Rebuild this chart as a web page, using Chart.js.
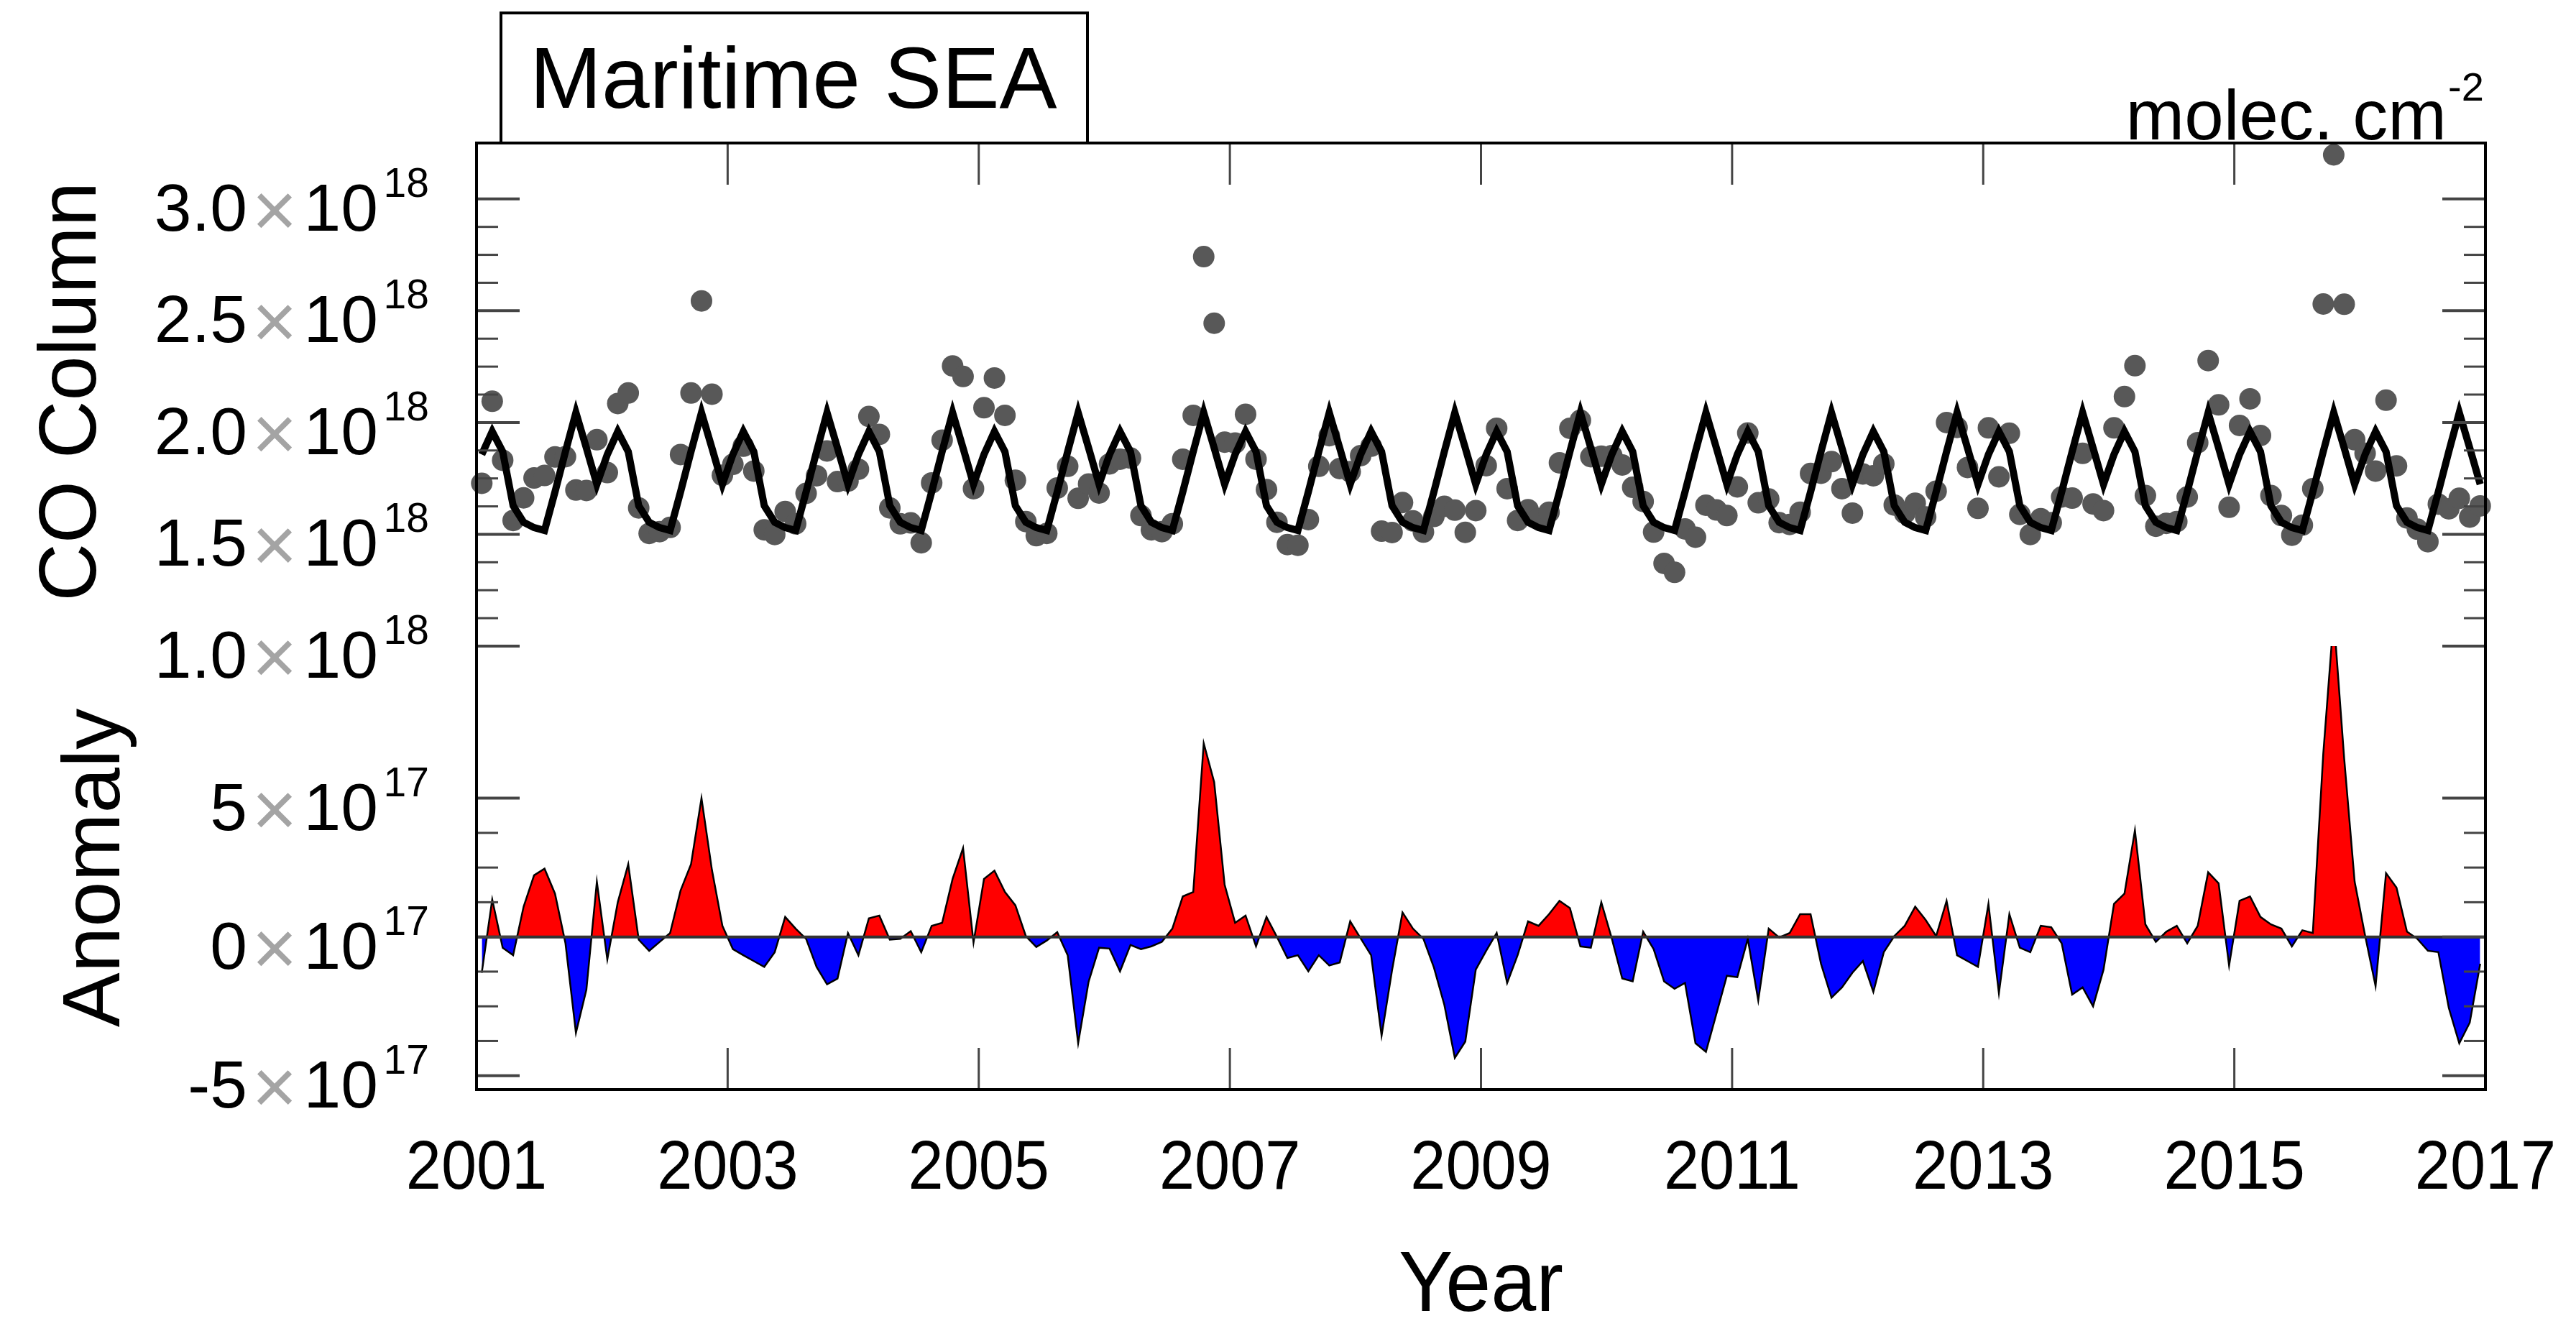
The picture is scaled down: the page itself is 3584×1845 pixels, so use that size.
<!DOCTYPE html>
<html>
<head>
<meta charset="utf-8">
<title>Maritime SEA CO column</title>
<script src="https://cdn.jsdelivr.net/npm/chart.js@4.4.1/dist/chart.umd.min.js"></script>
<style>
  html, body { margin: 0; padding: 0; background: #fff; }
  canvas { display: block; }
</style>
</head>
<body>
<canvas id="coChart" width="3584" height="1845"></canvas>
<script>
// monthly climatology Jan..Dec (1e18 molec/cm2), repeats every year
const climatology = [1.857, 1.960, 1.870, 1.628, 1.554, 1.530, 1.517, 1.690, 1.870, 2.044, 1.886, 1.724];

// observed monthly CO column, Jan 2001 - Dec 2016 (1e18 molec/cm2)
const observed = [
  1.728, 2.095, 1.831, 1.562, 1.663, 1.752, 1.763, 1.846, 1.847, 1.698, 1.696, 1.923,
  1.776, 2.085, 2.132, 1.618, 1.504, 1.512, 1.531, 1.857, 2.132, 2.544, 2.127, 1.764,
  1.813, 1.894, 1.783, 1.520, 1.499, 1.602, 1.547, 1.683, 1.762, 1.873, 1.736, 1.738,
  1.791, 2.027, 1.947, 1.618, 1.547, 1.551, 1.462, 1.730, 1.921, 2.253, 2.206, 1.704,
  2.066, 2.199, 2.032, 1.742, 1.557, 1.494, 1.504, 1.707, 1.804, 1.661, 1.725, 1.685,
  1.815, 1.836, 1.841, 1.584, 1.520, 1.512, 1.547, 1.836, 2.032, 2.742, 2.444, 1.912,
  1.908, 2.037, 1.836, 1.700, 1.554, 1.454, 1.451, 1.566, 1.804, 1.941, 1.794, 1.780,
  1.852, 1.894, 1.514, 1.508, 1.642, 1.560, 1.510, 1.580, 1.625, 1.608, 1.509, 1.606,
  1.807, 1.974, 1.704, 1.562, 1.610, 1.570, 1.599, 1.820, 1.974, 2.010, 1.847, 1.849,
  1.852, 1.810, 1.710, 1.647, 1.510, 1.370, 1.330, 1.524, 1.487, 1.630, 1.609, 1.584,
  1.712, 1.953, 1.641, 1.658, 1.552, 1.544, 1.599, 1.772, 1.773, 1.825, 1.704, 1.595,
  1.770, 1.762, 1.815, 1.631, 1.594, 1.639, 1.578, 1.693, 2.000, 1.978, 1.799, 1.616,
  1.976, 1.757, 1.952, 1.589, 1.499, 1.570, 1.552, 1.667, 1.662, 1.862, 1.636, 1.606,
  1.976, 2.116, 2.254, 1.673, 1.536, 1.549, 1.557, 1.667, 1.910, 2.277, 2.079, 1.621,
  1.987, 2.106, 1.942, 1.673, 1.584, 1.496, 1.541, 1.704, 2.530, 3.197, 2.529, 1.923,
  1.862, 1.783, 2.100, 1.806, 1.573, 1.523, 1.467, 1.635, 1.614, 1.661, 1.577, 1.627
];

// anomaly from climatology (1e17 molec/cm2)
const anomaly = [
  -1.29, 1.35, -0.39, -0.66, 1.09, 2.22, 2.46, 1.56, -0.23, -3.46, -1.90, 1.99,
  -0.81, 1.25, 2.62, -0.10, -0.50, -0.18, 0.14, 1.67, 2.62, 5.00, 2.41, 0.40,
  -0.44, -0.66, -0.87, -1.08, -0.55, 0.72, 0.30, -0.07, -1.08, -1.71, -1.50, 0.14,
  -0.66, 0.67, 0.77, -0.10, -0.07, 0.21, -0.55, 0.40, 0.51, 2.09, 3.20, -0.20,
  2.09, 2.39, 1.62, 1.14, 0.03, -0.36, -0.13, 0.17, -0.66, -3.83, -1.61, -0.39,
  -0.42, -1.24, -0.29, -0.44, -0.34, -0.18, 0.30, 1.46, 1.62, 6.98, 5.58, 1.88,
  0.51, 0.77, -0.34, 0.72, 0.00, -0.76, -0.66, -1.24, -0.66, -1.03, -0.92, 0.56,
  -0.05, -0.66, -3.56, -1.20, 0.88, 0.30, -0.07, -1.10, -2.45, -4.36, -3.77, -1.18,
  -0.50, 0.14, -1.66, -0.66, 0.56, 0.40, 0.82, 1.30, 1.04, -0.34, -0.39, 1.25,
  -0.05, -1.50, -1.60, 0.19, -0.44, -1.60, -1.87, -1.66, -3.83, -4.14, -2.77, -1.40,
  -1.45, -0.07, -2.29, 0.30, -0.02, 0.14, 0.82, 0.82, -0.97, -2.19, -1.82, -1.29,
  -0.87, -1.98, -0.55, 0.03, 0.40, 1.09, 0.61, 0.03, 1.30, -0.66, -0.87, -1.08,
  1.19, -2.03, 0.82, -0.39, -0.55, 0.40, 0.35, -0.23, -2.08, -1.82, -2.50, -1.18,
  1.19, 1.56, 3.84, 0.45, -0.18, 0.19, 0.40, -0.23, 0.40, 2.33, 1.93, -1.03,
  1.30, 1.46, 0.72, 0.45, 0.30, -0.34, 0.24, 0.14, 6.60, 11.53, 6.43, 1.99,
  0.05, -1.77, 2.30, 1.78, 0.19, -0.07, -0.50, -0.55, -2.56, -3.83, -3.09, -0.97
];

const yearTicks = [2001, 2003, 2005, 2007, 2009, 2011, 2013, 2015, 2017];
const columnTicks = [1.0, 1.5, 2.0, 2.5, 3.0];
const columnTickText = ['1.0', '1.5', '2.0', '2.5', '3.0'];
const anomalyTicks = [-5, 0, 5];
const anomalyTickText = ['-5', '0', '5'];

const FONT = "'Liberation Sans', Arial, Helvetica, sans-serif";

// month centres as decimal years
const monthTimes = observed.map((v, i) => 2001 + (i + 0.5) / 12);
const obsPoints = observed.map((v, i) => ({ x: monthTimes[i], y: v }));
const climPoints = monthTimes.map((t, i) => ({ x: t, y: climatology[i % 12] }));
const anomPoints = anomaly.map((v, i) => ({ x: monthTimes[i], y: v }));

function put(ctx, str, x, y, size, align, o) {
  o = o || {};
  ctx.save();
  ctx.translate(x, y);
  if (o.rot) ctx.rotate(o.rot);
  ctx.scale(o.sx || 1, 1);
  ctx.font = size + 'px ' + FONT;
  ctx.fillStyle = o.color || '#000';
  ctx.textAlign = align;
  ctx.textBaseline = 'alphabetic';
  ctx.fillText(str, 0, 0);
  ctx.restore();
}

function seg(ctx, x1, y1, x2, y2) {
  ctx.beginPath();
  ctx.moveTo(x1, y1);
  ctx.lineTo(x2, y2);
  ctx.stroke();
}

// inward ticks on both sides, 3 minor ticks between majors
function drawYTicks(ctx, area, scale, majors) {
  ctx.strokeStyle = '#444';
  majors.forEach((v, k) => {
    const y = scale.getPixelForValue(v);
    ctx.lineWidth = 4;
    seg(ctx, area.left, y, area.left + 60, y);
    seg(ctx, area.right - 60, y, area.right, y);
    if (k < majors.length - 1) {
      const step = (majors[k + 1] - v) / 4;
      ctx.lineWidth = 3;
      for (let j = 1; j < 4; j++) {
        const ym = scale.getPixelForValue(v + j * step);
        seg(ctx, area.left, ym, area.left + 30, ym);
        seg(ctx, area.right - 30, ym, area.right, ym);
      }
    }
  });
}

function sciLabel(ctx, y, mant, exp) {
  put(ctx, mant, 344, y + 44, 93, 'right');
  put(ctx, '\u00d7', 382, y + 52, 108, 'center', { color: '#a4a4a4' });
  put(ctx, '10', 526, y + 44, 93, 'right');
  put(ctx, exp, 597, y - 3, 57, 'right');
}

const decor = {
  id: 'decor',
  afterDatasetDraw(chart, args) {
    // the anomaly panel must not spill into the column panel
    if (args.meta.yAxisID !== 'yBot') return;
    const { ctx, chartArea } = chart;
    const top = chart.scales.yTop;
    ctx.save();
    ctx.fillStyle = '#fff';
    ctx.fillRect(chartArea.left - 2, chartArea.top - 2, chartArea.right - chartArea.left + 4, top.bottom - chartArea.top + 1);
    ctx.restore();
  },
  afterDatasetsDraw(chart) {
    const { ctx, chartArea: area, scales } = chart;
    ctx.save();
    // zero line
    const y0 = scales.yBot.getPixelForValue(0);
    ctx.strokeStyle = '#333';
    ctx.lineWidth = 4;
    seg(ctx, area.left, y0, area.right, y0);

    drawYTicks(ctx, area, scales.yTop, columnTicks);
    drawYTicks(ctx, area, scales.yBot, anomalyTicks);

    ctx.strokeStyle = '#444';
    ctx.lineWidth = 3;
    yearTicks.forEach(yr => {
      const x = scales.x.getPixelForValue(yr);
      seg(ctx, x, area.top, x, area.top + 58);
      seg(ctx, x, area.bottom - 58, x, area.bottom);
    });

    ctx.strokeStyle = '#000';
    ctx.lineWidth = 4;
    ctx.strokeRect(area.left, area.top, area.right - area.left, area.bottom - area.top);
    ctx.restore();
  },
  afterDraw(chart) {
    const { ctx, chartArea: area, scales } = chart;
    ctx.save();
    columnTicks.forEach((v, k) => sciLabel(ctx, scales.yTop.getPixelForValue(v), columnTickText[k], '18'));
    anomalyTicks.forEach((v, k) => sciLabel(ctx, scales.yBot.getPixelForValue(v), anomalyTickText[k], '17'));

    yearTicks.forEach(yr => {
      put(ctx, String(yr), scales.x.getPixelForValue(yr), 1654, 96, 'center', { sx: 0.92 });
    });
    put(ctx, 'Year', (area.left + area.right) / 2, 1824, 118, 'center', { sx: 0.96 });

    const yt = scales.yTop, yb = scales.yBot;
    put(ctx, 'CO Column', 133, (yt.top + yt.bottom) / 2 - 4, 114, 'center', { rot: -Math.PI / 2, sx: 0.98 });
    put(ctx, 'Anomaly', 166, (yb.top + yb.bottom) / 2, 114, 'center', { rot: -Math.PI / 2 });

    // title box
    ctx.fillStyle = '#fff';
    ctx.fillRect(697, 18, 816, area.top - 18);
    ctx.strokeStyle = '#000';
    ctx.lineWidth = 4;
    ctx.strokeRect(697, 18, 816, area.top - 18);
    put(ctx, 'Maritime SEA', 737, 150, 120, 'left');

    // units
    put(ctx, 'molec. cm', 3404, 194, 98, 'right');
    put(ctx, '-2', 3406, 140, 56, 'left');
    ctx.restore();
  }
};

new Chart(document.getElementById('coChart').getContext('2d'), {
  type: 'scatter',
  data: {
    datasets: [
      {
        type: 'line',
        label: 'Climatology',
        data: climPoints,
        yAxisID: 'yTop',
        borderColor: '#000',
        borderWidth: 10,
        borderJoinStyle: 'miter',
        pointRadius: 0,
        tension: 0,
        fill: false,
        order: 0
      },
      {
        type: 'scatter',
        label: 'CO Column',
        data: obsPoints,
        yAxisID: 'yTop',
        backgroundColor: '#585858',
        borderWidth: 0,
        pointRadius: 15,
        clip: { left: 20, right: 20, top: 20, bottom: 0 },
        order: 1
      },
      {
        type: 'line',
        label: 'Anomaly',
        data: anomPoints,
        yAxisID: 'yBot',
        borderColor: '#000',
        borderWidth: 2.5,
        pointRadius: 0,
        tension: 0,
        fill: { target: { value: 0 }, above: '#ff0000', below: '#0000ff' },
        order: 2
      }
    ]
  },
  options: {
    responsive: false,
    devicePixelRatio: 1,
    animation: false,
    events: [],
    layout: { padding: { left: 0, right: 126, top: 199, bottom: 0 } },
    plugins: { legend: { display: false }, tooltip: { enabled: false } },
    scales: {
      x: {
        type: 'linear', min: 2001, max: 2017,
        grid: { display: false }, border: { display: false }, ticks: { display: false },
        afterFit: s => { s.height = 329; }
      },
      yBot: {
        type: 'linear', position: 'left', stack: 'co', stackWeight: 617,
        min: -5.5, max: 10.48,
        grid: { display: false }, border: { display: false }, ticks: { display: false },
        afterFit: s => { s.width = 663; }
      },
      yTop: {
        type: 'linear', position: 'left', stack: 'co', stackWeight: 700,
        min: 1.0, max: 3.25,
        grid: { display: false }, border: { display: false }, ticks: { display: false },
        afterFit: s => { s.width = 663; }
      }
    }
  },
  plugins: [decor]
});
</script>
</body>
</html>
